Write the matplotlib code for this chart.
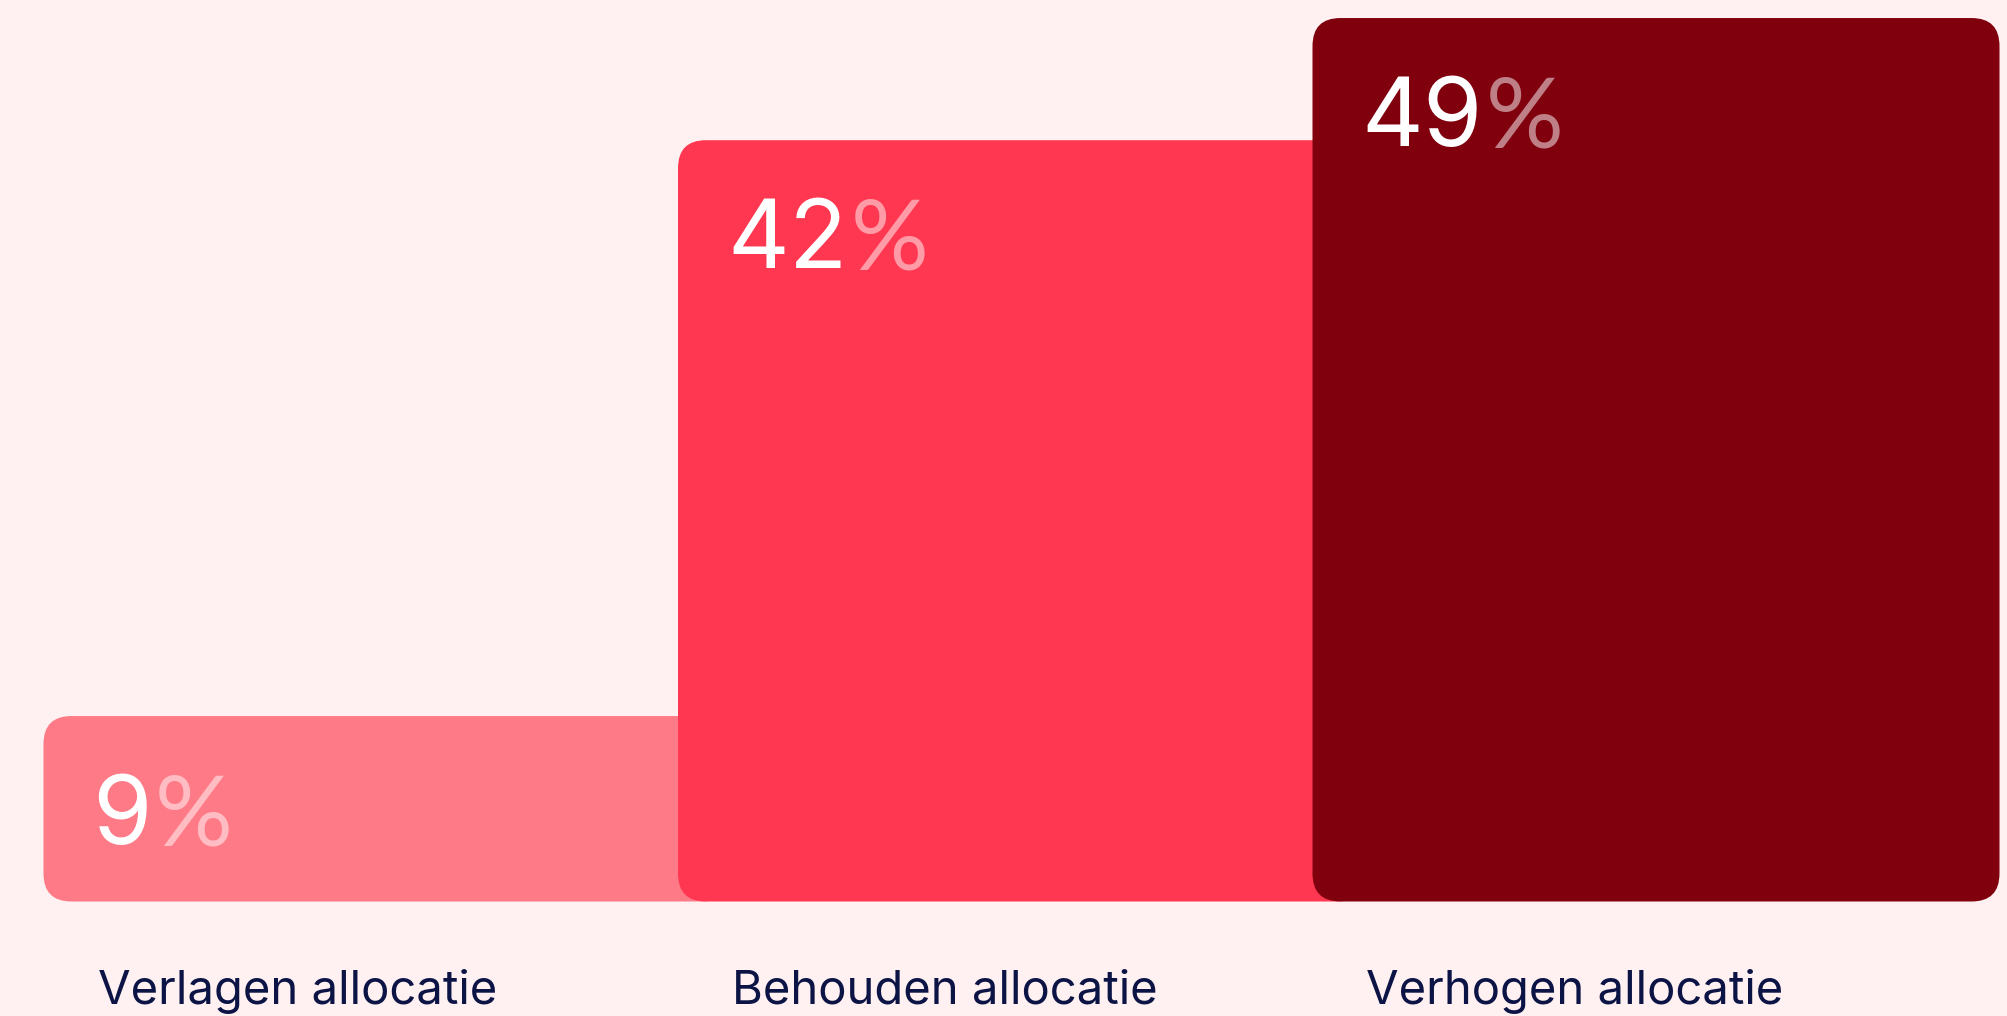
import matplotlib.pyplot as plt
from matplotlib.patches import FancyBboxPatch

# data
categories = ['Verlagen allocatie', 'Behouden allocatie', 'Verhogen allocatie']
values = [9, 42, 49]
colors = ['#FF7A87', '#FF3750', '#80000D']

plt.rcParams['font.family'] = ['Inter', 'DejaVu Sans']

W, H, dpi = 2008, 1016, 100
bg = '#FFF0F1'

# layout in pixels
left0 = 43.5       # left edge of first bar
step = 634.5       # distance between bar lefts
bar_w = 687        # bar width
px_per_pct = 17.45
base_pad = 1.628   # bars start a bit below zero
bottom_px = 114.5  # bar bottoms, from bottom of figure
radius_px = 28

xmin = -left0 / step
xmax = xmin + W / step
ymin = -base_pad - bottom_px / px_per_pct
ymax = ymin + H / px_per_pct

fig = plt.figure(figsize=(W / dpi, H / dpi), dpi=dpi, facecolor=bg)
ax = fig.add_axes([0, 0, 1, 1])
ax.set_facecolor(bg)
ax.set_xlim(xmin, xmax)
ax.set_ylim(ymin, ymax)
ax.axis('off')

width = bar_w / step
aspect = step / px_per_pct

for i, (cat, v, c) in enumerate(zip(categories, values, colors)):
    box = FancyBboxPatch((i, -base_pad), width, v + base_pad,
                         boxstyle='round,pad=0,rounding_size=%f' % (radius_px / step),
                         mutation_aspect=aspect, facecolor=c, edgecolor='none',
                         zorder=2 + i)
    ax.add_patch(box)

    num = ax.annotate(str(v), xy=(i, v), xytext=(49, -128),
                      textcoords='offset pixels', ha='left', va='baseline',
                      fontsize=69, color='white', zorder=10)
    # percent sign, lighter
    ax.annotate('%', xy=(1, 0), xycoords=num, xytext=(3, 2),
                textcoords='offset pixels', ha='left', va='bottom',
                fontsize=70, color='white', alpha=0.5, zorder=10,
                family=['Lato', 'DejaVu Sans'])

    ax.annotate(cat, xy=(i, -base_pad), xytext=(54, -102.5),
                textcoords='offset pixels', ha='left', va='baseline',
                fontsize=34, color='#0B1445', zorder=10)

fig.savefig('out.png', dpi=dpi, facecolor=bg)
